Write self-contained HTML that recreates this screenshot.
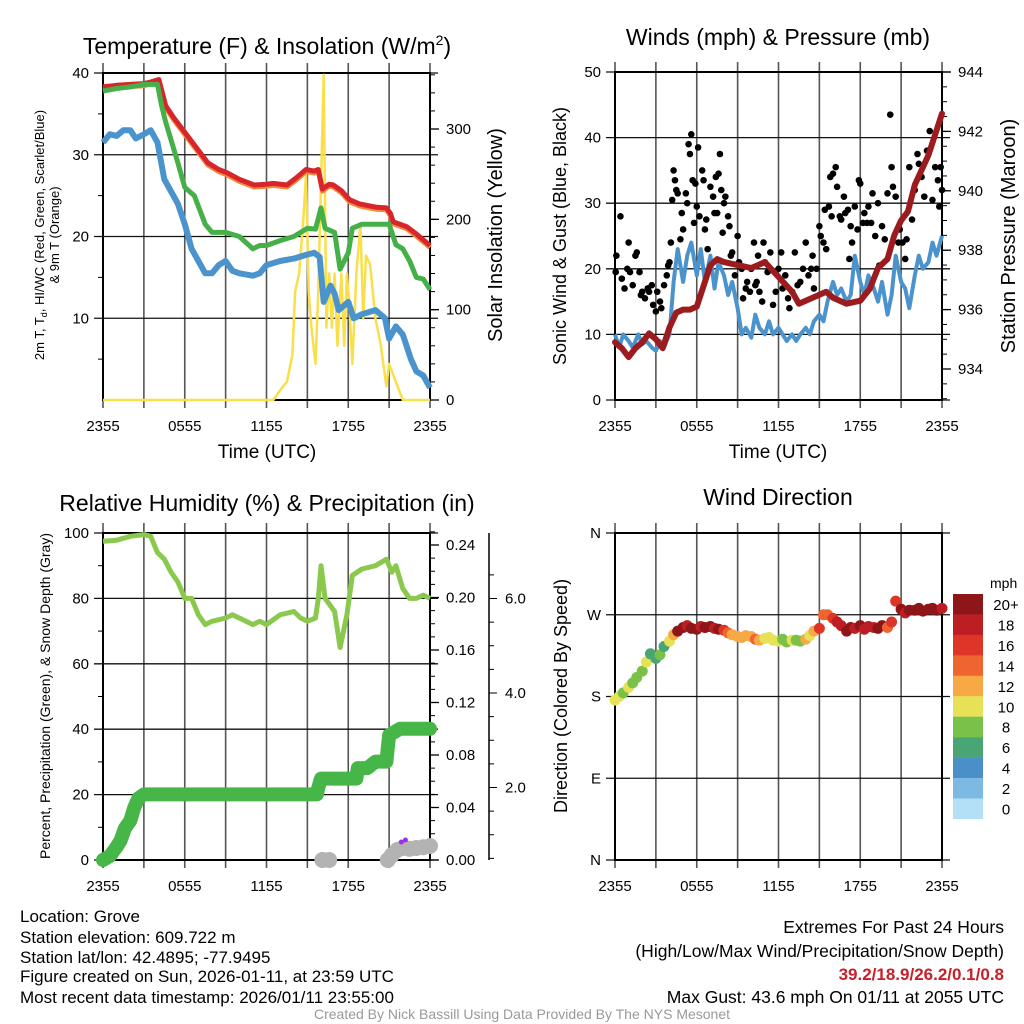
<!DOCTYPE html>
<html><head><meta charset="utf-8">
<style>
html,body{margin:0;padding:0;background:#fff;}
svg{display:block;font-family:"Liberation Sans",sans-serif;}
.ft{font-family:"Liberation Sans",sans-serif;font-size:17px;fill:#000;}
</style></head>
<body>
<svg id="fig" width="1024" height="1024" viewBox="0 0 1024 1024" xmlns="http://www.w3.org/2000/svg">
<rect width="1024" height="1024" fill="#fff"/>
<text x="267" y="54" font-size="23" text-anchor="middle">Temperature (F) &amp; Insolation (W/m<tspan font-size="14" dy="-9">2</tspan><tspan dy="9">)</tspan></text>
<text x="778" y="45" font-size="23" text-anchor="middle">Winds (mph) &amp; Pressure (mb)</text>
<text x="267" y="511" font-size="23" text-anchor="middle">Relative Humidity (%) &amp; Precipitation (in)</text>
<text x="778" y="505" font-size="23" text-anchor="middle">Wind Direction</text>

<text transform="translate(44,235) rotate(-90)" font-size="13" text-anchor="middle">2m T, T<tspan font-size="9" dy="3">d</tspan><tspan dy="-3">, HI/WC (Red, Green, Scarlet/Blue)</tspan></text>
<text transform="translate(59,235) rotate(-90)" font-size="13" text-anchor="middle">&amp; 9m T (Orange)</text>
<text transform="translate(502,235) rotate(-90)" font-size="20" text-anchor="middle">Solar Insolation (Yellow)</text>
<text x="267" y="458" font-size="19" text-anchor="middle">Time (UTC)</text>
<text x="778" y="458" font-size="19" text-anchor="middle">Time (UTC)</text>
<text transform="translate(566,236) rotate(-90)" font-size="18" text-anchor="middle">Sonic Wind &amp; Gust (Blue, Black)</text>
<text transform="translate(1015,236) rotate(-90)" font-size="20" text-anchor="middle">Station Pressure (Maroon)</text>
<text transform="translate(50,696) rotate(-90)" font-size="14" text-anchor="middle">Percent, Precipitation (Green), &amp; Snow Depth (Gray)</text>
<text transform="translate(567,696) rotate(-90)" font-size="18" text-anchor="middle">Direction (Colored By Speed)</text>
<text x="990" y="588" font-size="14">mph</text>

<g class="ft">
<text x="20" y="922">Location: Grove</text>
<text x="20" y="943">Station elevation: 609.722 m</text>
<text x="20" y="963">Station lat/lon: 42.4895; -77.9495</text>
<text x="20" y="982">Figure created on Sun, 2026-01-11, at 23:59 UTC</text>
<text x="20" y="1003">Most recent data timestamp: 2026/01/11 23:55:00</text>
</g>
<g class="ft" text-anchor="end" style="font-size:17.5px">
<text x="1004" y="933">Extremes For Past 24 Hours</text>
<text x="1004" y="957">(High/Low/Max Wind/Precipitation/Snow Depth)</text>
<text x="1004" y="980" style="fill:#c8202a;font-weight:bold;font-size:17px">39.2/18.9/26.2/0.1/0.8</text>
<text x="1004" y="1003">Max Gust: 43.6 mph On 01/11 at 2055 UTC</text>
</g>
<text x="522" y="1019" text-anchor="middle" style="font-family:'Liberation Sans',sans-serif;font-size:14px;fill:#999">Created By Nick Bassill Using Data Provided By The NYS Mesonet</text>
</svg>
<script>
// ---------- data ----------
const tempT = [0,1,2,3,3.5,4.1,4.6,5.2,6.2,6.8,7.7,8.5,9.1,10,11.1,12,12.5,13.5,14.2,14.9,15.5,15.8,16.1,16.6,16.9,17.5,18.1,18.8,19.4,20,20.8,21.1,21.3,22.3,23,24];
const tempV = [38.3,38.5,38.6,38.7,38.9,39.2,36,34.5,32.3,31,29,28.2,27.8,27,26.3,26.4,26.5,26.3,27.2,28.2,28,28.2,25.8,26.4,26.3,25.6,24.5,24,23.8,23.6,23.5,22.8,21.8,21.2,20.3,18.9];
const dewT = [0,0.5,1,1.5,2,2.4,3,3.5,4,4.5,5,5.5,6,6.5,7,7.5,8,8.5,9,9.5,10,11,11.5,12,13,14,15,15.5,15.9,16.2,16.7,17,17.3,18,18.4,19,20,20.7,21,21.5,22,22.6,23,23.5,24];
const dewV = [31.5,32.5,32.3,33,33,32,32.5,33,31.5,27,25.5,24,21.5,18.5,17,15.5,15.5,16.5,17,15.8,15.5,15.2,15.5,16.5,17,17.3,17.8,18,17.5,12,14,13,11,12,10,10.5,11,10,7.5,9,8,5,3.5,3,1.5];
const wcT = [0,1,2,3,4,4.3,4.6,5.5,6,6.7,7.5,8,9,10,11,11.5,12,13,14,15,15.6,16,16.3,17,17.4,18,18.3,19,20,21,21.5,22,22.5,23,23.5,24];
const wcV = [37.8,38.1,38.3,38.6,38.6,36,34,29,26,25,21.5,20.5,20.5,20,18.5,18.9,18.9,19.5,20,21,20.9,23.5,21,20.5,16,18,21,21.5,21.5,21.5,19,18.5,17,15,14.8,13.5];
const solarT = [0,12.5,13.2,13.5,13.9,14.1,14.4,14.7,14.9,15.1,15.3,15.6,15.8,16.2,16.4,16.6,16.8,17,17.2,17.5,17.7,17.9,18.1,18.3,18.6,18.9,19.1,19.3,19.6,20,20.4,20.8,21,21.5,22,24];
const solarV = [0,0,15,20,50,120,140,200,250,120,80,40,120,360,80,140,80,140,60,140,60,140,100,40,140,195,90,160,150,90,60,15,40,20,0,0];

const windT = [0,0.3,0.6,1,1.3,1.7,2,2.3,2.7,3,3.3,3.6,4,4.3,4.6,5,5.3,5.6,6,6.3,6.6,7,7.3,7.6,8,8.3,8.6,9,9.3,9.6,10,10.3,10.6,11,11.3,11.6,12,12.3,12.6,13,13.3,13.6,14,14.3,14.6,15,15.3,15.6,16,16.3,16.6,17,17.3,17.6,18,18.3,18.6,19,19.3,19.6,20,20.3,20.6,21,21.3,21.6,22,22.3,22.6,23,23.3,23.6,24];
const windV = [10,8,10,9,8,10,8.5,9,8,7.5,9,8,10,18,23,18,22,24,19,23,18,22,17,21,19,16,18,14,10,11,9.5,13,11,10,12,10,11,10,9,10,9,10,11,10,12,13,12,15,18,16,17,15,16,22,18,16,19,17,15,18,13,16,22,18,17,14,19,22,20,21,24,22,25];
const presT = [0,0.5,1,1.5,2,2.5,3,3.5,4,4.5,5,5.5,6,6.5,7,7.5,8,9,10,11,12,13,13.5,14,15,15.5,16,17,18,18.7,19.3,20,20.5,21,21.5,22,23,24];
const presV = [934.9,934.7,934.4,934.7,934.9,935.2,935,934.7,935.4,935.9,936,936,936.1,936.8,937.5,937.7,937.6,937.5,937.4,937.6,937.1,936.6,936.2,936.3,936.5,936.6,936.4,936.2,936.3,936.7,937.4,937.7,938.5,939,939.3,940.2,941.2,942.6];
const gustT = [0.05,0.1,0.4,0.5,0.7,0.9,1.0,1.1,1.3,1.5,1.6,1.8,1.9,2.0,2.2,2.4,2.5,2.7,2.8,3.0,3.1,3.3,3.4,3.6,3.8,3.9,4.0,4.1,4.2,4.3,4.4,4.5,4.6,4.8,4.9,5.0,5.2,5.3,5.4,5.5,5.6,5.7,5.8,5.9,6.0,6.1,6.2,6.4,6.5,6.6,6.7,6.8,7.0,7.2,7.3,7.4,7.5,7.6,7.7,7.8,7.9,8.0,8.1,8.3,8.4,8.5,8.6,8.8,9.0,9.1,9.3,9.4,9.6,9.7,9.9,10.0,10.2,10.3,10.4,10.5,10.6,10.8,10.9,11.0,11.2,11.4,11.6,11.8,12.0,12.2,12.3,12.5,12.7,12.8,13.0,13.2,13.4,13.6,13.8,14.0,14.2,14.4,14.5,14.6,14.8,15.0,15.1,15.3,15.4,15.5,15.7,15.8,15.9,16.0,16.2,16.3,16.5,16.6,16.8,16.9,17.1,17.2,17.3,17.4,17.6,17.8,17.9,18.0,18.2,18.3,18.5,18.6,18.8,18.9,19.1,19.3,19.4,19.6,19.8,20.0,20.2,20.3,20.4,20.6,20.8,20.9,21.1,21.3,21.4,21.6,21.8,22.0,22.2,22.3,22.5,22.7,22.9,23.1,23.3,23.5,23.7,23.8,23.9,24.0];
const gustV = [19.5,22,28,18.5,17,20,24,19.5,17.5,22,22.5,19.5,16,16.5,15.5,17,16.5,17.5,14.5,13.5,16.5,15,14,17.5,19,20.5,21,24,30.5,35,33.5,32,31.5,24.5,28.5,26,31.5,30,39,37.5,40.5,33.5,27,33,29.5,38.5,28,35,33.5,26,27.5,23,32.5,31,28.5,34,28.5,34.5,37.5,32,25.5,30,31,28,26.5,22,22.5,19,25,21,20,15.5,17,18,16.5,20,24,17.5,18,22,16.5,15,24,21,19.5,22.5,14.5,16.5,20,22.5,17,19,15.5,14,16.5,22.5,17.5,18,20,24,19,20,22,17,20,26.5,25,24,29,23,29.5,34,28,34.5,35.5,32.5,28,27.5,31,28.5,29,21.5,26.5,24,29.5,26,33.5,33,27,28.5,27,29.5,27,31.5,25,30,20.5,26.5,24.5,31.5,43.5,35.5,32.5,31,24,26,24,21.5,24.5,35.5,27.5,32,37.5,36,34,31,38,41,30.5,35.5,33.5,29.5,35.5,32];

const rhT = [0,1,2,3,3.5,4,4.5,5,5.5,6,6.5,7,7.5,8,9,9.5,10,11,11.5,12,13,14,14.5,15,15.6,15.8,16,16.3,17,17.4,17.9,18.3,19,20,20.8,21.2,21.5,22,22.5,23,23.5,24];
const rhV = [97.5,97.8,99,99.5,99,94,92,88,85,80,80,75,72,73,74,75,74,72,73,72,75,76,74,73,74,80,90,80,76,65,75,87,89,90,92,88,90,83,80,80,81,80];
const precipT = [0,0.5,1,1.3,1.6,2,2.3,2.6,3,3.5,15.7,15.8,16,18.6,18.7,19.4,20,20.8,21.0,21.8,24];
const precipV = [0,0.003,0.01,0.015,0.024,0.03,0.04,0.047,0.05,0.05,0.05,0.055,0.062,0.062,0.07,0.07,0.075,0.075,0.095,0.1,0.1];
const snowT = [16.1,16.6,20.9,21.2,21.6,22.0,22.5,23.0,23.5,24.0];
const snowV = [0,0,0,0.12,0.25,0.3,0.28,0.3,0.32,0.35];

const dirT = [0,0.3,0.6,1,1.3,1.6,2,2.3,2.6,3,3.3,3.6,4,4.3,4.6,5,5.3,5.6,6,6.3,6.6,7,7.3,7.6,8,8.3,8.6,9,9.3,9.6,10,10.3,10.6,11,11.3,11.6,12,12.3,12.6,13,13.3,13.6,14,14.3,14.6,15,15.3,15.6,16,16.3,16.6,17,17.3,17.6,18,18.3,18.6,19,19.3,19.6,20,20.3,20.6,21,21.3,21.6,22,22.3,22.6,23,23.3,23.6,24];
const dirV = [176,180,184,190,195,201,208,218,227,222,226,235,241,248,252,256,258,255,254,257,256,257,255,254,253,250,248,246,245,247,246,243,242,244,245,242,241,243,240,242,242,241,243,247,252,255,270,270,266,262,258,252,256,255,258,254,257,256,255,258,256,262,285,276,272,275,275,277,274,276,277,275,277];
const dirS = [10,10,8,10,8,8,8,10,7,7,8,7,10,13,20,20,18,20,20,18,20,20,18,20,16,14,12,12,13,12,12,14,12,11,10,10,10,9,8,10,9,8,12,11,13,16,14,15,16,18,18,20,20,18,20,18,18,18,20,20,14,16,16,20,18,20,20,20,20,20,20,20,18];
const cbLabels = ['20+','18','16','14','12','10','8','6','4','2','0'];
const cbColors = ['#8e1518','#bc1e24','#dd3628','#ee6530','#f6a944','#e6e156','#7ac14a','#4aa574','#4a8fc7','#7cb9e3','#b3e0f7'];

// ---------- helpers ----------
const NS='http://www.w3.org/2000/svg';
const svg=document.getElementById('fig');
function mk(tag,attrs,parent){const e=document.createElementNS(NS,tag);for(const k in attrs)e.setAttribute(k,attrs[k]);(parent||svg).appendChild(e);return e;}
function lin(d0,d1,r0,r1){return v=>r0+(v-d0)*(r1-r0)/(d1-d0);}
function path(xs,ys,xf,yf){let d='';for(let i=0;i<xs.length;i++){d+=(i?'L':'M')+xf(xs[i]).toFixed(1)+','+yf(ys[i]).toFixed(1);}return d;}

const P1={x0:103,x1:430,y0:73,y1:400},P2={x0:615,x1:942,y0:72,y1:400},P3={x0:103,x1:430,y0:533,y1:860},P4={x0:615,x1:942,y0:533,y1:860};
const tLabels=['2355','0555','1155','1755','2355'];

function frame(P,name,yTicks,yf,yLab,rightExt){
  const g=mk('g',{});
  
  
  const xf=lin(0,24,P.x0,P.x1);
  for(let h=0;h<=24;h+=3){
    const l=mk('line',{x1:xf(h),x2:xf(h),y1:P.y0-10,y2:P.y1+8,stroke:'#555','stroke-width':1.6},g);
    
    
  }
  for(let i=0;i<5;i++){
    const t=mk('text',{x:xf(i*6),y:P.y1+31,'font-size':15,'text-anchor':'middle'},g);
    
    
    t.textContent=tLabels[i];
  }
  yTicks.forEach((v,i)=>{
    const y=yf(v);
    const l=mk('line',{x1:P.x0-9,x2:P.x1+(rightExt||0),y1:y,y2:y,stroke:'#111','stroke-width':1.3},g);
    
    
    if(yLab[i]!==''){
      const t=mk('text',{x:P.x0-14,y:y+5,'font-size':15,'text-anchor':'end'},g);
      
      
      t.textContent=yLab[i];
    }
  });
  const r=mk('rect',{x:P.x0,y:P.y0,width:P.x1-P.x0,height:P.y1-P.y0,fill:'none',stroke:'#000','stroke-width':2},g);
  
  
  return {g,xf};
}
function rightAxis(P,ticks,labs,yf,minors,x,name,lenMaj){
  const g=mk('g',{});
  
  
  minors.forEach(v=>{const y=yf(v);mk('line',{x1:x,x2:x+5,y1:y,y2:y,stroke:'#000','stroke-width':1},g);});
  ticks.forEach((v,i)=>{const y=yf(v);mk('line',{x1:x,x2:x+(lenMaj||9),y1:y,y2:y,stroke:'#000','stroke-width':1.3},g);
    const t=mk('text',{x:x+16,y:y+5,'font-size':15},g);
    
    
    t.textContent=labs[i];});
  return g;
}
function leftMinor(P,vals,yf){vals.forEach(v=>{const y=yf(v);mk('line',{x1:P.x0-5,x2:P.x0,y1:y,y2:y,stroke:'#000','stroke-width':1});});}
function range(a,b,s){const r=[];for(let v=a;v<=b+1e-9;v+=s)r.push(+v.toFixed(4));return r;}

// ---------- Panel 1 ----------
{
  const yf=lin(0,40,400,73), sf=lin(0,362,400,73);
  const {xf}=frame(P1,'temp',[10,20,30,40],yf,['10','20','30','40'],8);
  leftMinor(P1,[5,15,25,35],yf);
  rightAxis(P1,[0,100,200,300],['0','100','200','300'],sf,range(20,360,20),P1.x1,'solar-axis');
  const s=mk('path',{d:path(solarT,solarV,xf,sf),fill:'none',stroke:'#f9e04b','stroke-width':2.5,'stroke-linejoin':'round'});
  
  
  const o=mk('path',{d:path(tempT,tempV.map(v=>v-0.25),xf,yf),fill:'none',stroke:'#f5873a','stroke-width':5,'stroke-linejoin':'round'});
  
  
  const r=mk('path',{d:path(tempT,tempV,xf,yf),fill:'none',stroke:'#d7262b','stroke-width':5,'stroke-linejoin':'round'});
  
  
  const gr=mk('path',{d:path(wcT,wcV,xf,yf),fill:'none',stroke:'#44b047','stroke-width':5,'stroke-linejoin':'round'});
  
  
  const b=mk('path',{d:path(dewT,dewV,xf,yf),fill:'none',stroke:'#4b93cd','stroke-width':6,'stroke-linejoin':'round'});
  
  
}
// ---------- Panel 2 ----------
{
  const yf=lin(0,50,400,72), pf=lin(934,944,369,72);
  const {xf}=frame(P2,'wind',[0,10,20,30,40,50],yf,['0','10','20','30','40','50'],8);
  rightAxis(P2,[934,936,938,940,942,944],['934','936','938','940','942','944'],pf,range(933,944,0.5),P2.x1,'pressure-axis');
  const b=mk('path',{d:path(windT,windV,xf,yf),fill:'none',stroke:'#4b93cd','stroke-width':4,'stroke-linejoin':'round'});
  
  
  gustT.forEach((t,i)=>{
    const c=mk('circle',{cx:xf(t),cy:yf(gustV[i]),r:3.3,fill:'#000'});
    
    
  });
  const p=mk('path',{d:path(presT,presV,xf,pf),fill:'none',stroke:'#9b1b1e','stroke-width':6,'stroke-linejoin':'round','stroke-linecap':'round'});
  
  
}
// ---------- Panel 3 ----------
{
  const yf=lin(0,100,860,533), pf=lin(0,0.24,860,545), sf=lin(0,1,882,834.75);
  const {xf}=frame(P3,'rh',[0,20,40,60,80,100],yf,['0','20','40','60','80','100'],8);
  leftMinor(P3,[10,30,50,70,90],yf);
  rightAxis(P3,[0,0.04,0.08,0.12,0.16,0.2,0.24],['0.00','0.04','0.08','0.12','0.16','0.20','0.24'],pf,range(0,0.25,0.01),P3.x1,'precip-axis');
  const ax=mk('line',{x1:489,x2:489,y1:533,y2:860,stroke:'#000','stroke-width':1.5});
  
  
  range(0.5,6.5,0.5).forEach(v=>{const y=sf(v);if(y<533||y>860)return;const maj=Math.abs(v%2)<1e-6;
    mk('line',{x1:489,x2:maj?497:494,y1:y,y2:y,stroke:'#000','stroke-width':1});
    if(maj){const t=mk('text',{x:505,y:y+5,'font-size':15});
      
      
      t.textContent=v.toFixed(1);}});
  snowT.forEach((t,i)=>{
    const c=mk('circle',{cx:xf(t),cy:860-snowV[i]*40,r:8,fill:'#b3b3b3'});
    
    
  });
  const pp=mk('path',{d:path(precipT,precipV,xf,pf),fill:'none',stroke:'#47b649','stroke-width':14,'stroke-linejoin':'round','stroke-linecap':'round'});
  
  
  [[21.9,0.45],[22.2,0.5]].forEach(a=>{const c=mk('circle',{cx:xf(a[0]),cy:860-a[1]*40,r:2.5,fill:'#9b30ee'});
    
    });
  const h=mk('path',{d:path(rhT,rhV,xf,yf),fill:'none',stroke:'#8bc94e','stroke-width':5,'stroke-linejoin':'round'});
  
  
}
// ---------- Panel 4 ----------
{
  const yf=lin(0,360,860,533);
  const {xf}=frame(P4,'dir',[0,90,180,270,360],yf,['N','E','S','W','N'],8);
  dirT.forEach((t,i)=>{
    const idx=Math.min(10,Math.floor(dirS[i]/2));
    const c=mk('circle',{cx:xf(t),cy:yf(dirV[i]),r:5.5,fill:cbColors[10-idx]});
    
    
  });
  cbLabels.forEach((lab,i)=>{
    const y=594+i*20.45;
    const r=mk('rect',{x:953,y:y,width:30,height:20.6,fill:cbColors[i]});
    
    
    const t=mk('text',{x:1006,y:y+16,'font-size':15,'text-anchor':'middle'});
    
    
    t.textContent=lab;
  });
}
</script>
</body></html>
